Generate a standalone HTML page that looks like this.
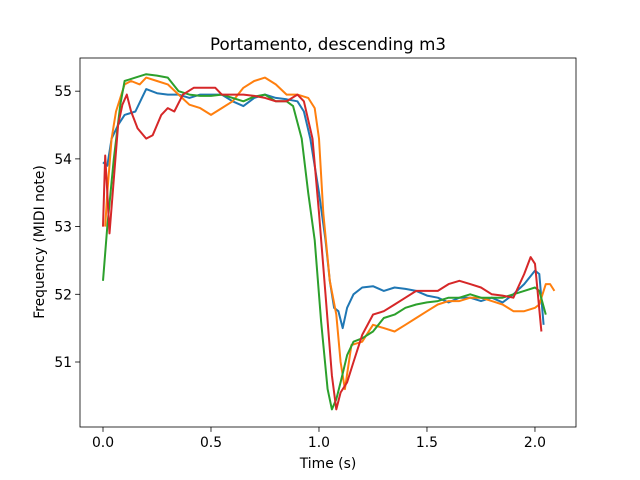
<!DOCTYPE html>
<html><head><meta charset="utf-8"><style>body{margin:0;background:#fff}svg{display:block;font-family:"DejaVu Sans","Liberation Sans",sans-serif}</style></head>
<body>
<svg id="chart" width="640" height="480">
<rect width="640" height="480" fill="#fff"/>
<text x="328" y="50" text-anchor="middle" font-size="16.7">Portamento, descending m3</text>
<g id="plot"></g>
<rect x="80" y="58" width="496" height="369" fill="none" stroke="#000" stroke-width="0.8"/>
<g id="xt"></g>
<g id="yt"></g>
<text x="328" y="468" text-anchor="middle" font-size="13.9">Time (s)</text>
<text transform="translate(44,242) rotate(-90)" text-anchor="middle" font-size="13.9">Frequency (MIDI note)</text>
</svg>
<script>
const xTicks=[0,0.5,1,1.5,2];
const xTickLabels=["0.0","0.5","1.0","1.5","2.0"];
const yTicks=[51,52,53,54,55];
const yTickLabels=["51","52","53","54","55"];
const blueT=[0,0.02,0.04,0.07,0.1,0.15,0.18,0.2,0.25,0.3,0.35,0.4,0.45,0.5,0.55,0.6,0.65,0.7,0.75,0.8,0.85,0.9,0.93,0.96,1.0,1.03,1.05,1.07,1.09,1.11,1.13,1.16,1.2,1.25,1.3,1.35,1.4,1.45,1.5,1.55,1.6,1.65,1.7,1.75,1.8,1.85,1.9,1.95,2.0,2.02,2.04];
const blueV=[53.95,53.9,54.3,54.5,54.65,54.7,54.9,55.03,54.97,54.95,54.95,54.9,54.95,54.95,54.95,54.85,54.78,54.9,54.95,54.9,54.88,54.85,54.7,54.3,53.5,52.8,52.2,51.8,51.75,51.5,51.8,52.0,52.1,52.12,52.05,52.1,52.08,52.05,51.98,51.95,51.88,51.95,51.95,51.9,51.95,51.88,52.0,52.15,52.35,52.3,51.55];
const orangeT=[0.01,0.02,0.04,0.06,0.08,0.1,0.13,0.17,0.2,0.25,0.3,0.35,0.4,0.45,0.5,0.55,0.6,0.65,0.7,0.75,0.8,0.85,0.9,0.95,0.98,1.0,1.02,1.05,1.08,1.1,1.12,1.15,1.2,1.25,1.3,1.35,1.4,1.45,1.5,1.55,1.6,1.65,1.7,1.75,1.8,1.85,1.9,1.95,2.0,2.02,2.05,2.07,2.09];
const orangeV=[53.0,53.5,54.3,54.7,54.9,55.1,55.15,55.1,55.2,55.15,55.1,54.95,54.8,54.75,54.65,54.75,54.85,55.05,55.15,55.2,55.1,54.95,54.95,54.9,54.75,54.3,53.2,52.2,51.7,51.0,50.6,51.25,51.3,51.55,51.5,51.45,51.55,51.65,51.75,51.85,51.9,51.9,51.95,51.95,51.9,51.85,51.75,51.75,51.8,51.85,52.15,52.15,52.05];
const greenT=[0,0.02,0.05,0.08,0.1,0.15,0.2,0.25,0.3,0.35,0.4,0.45,0.5,0.55,0.6,0.65,0.7,0.75,0.8,0.85,0.88,0.92,0.95,0.98,1.01,1.04,1.06,1.08,1.1,1.13,1.16,1.2,1.25,1.3,1.35,1.4,1.45,1.5,1.55,1.6,1.65,1.7,1.75,1.8,1.85,1.9,1.95,2.0,2.02,2.05];
const greenV=[52.2,53.0,54.0,54.8,55.15,55.2,55.25,55.23,55.2,55.0,54.95,54.93,54.93,54.95,54.9,54.85,54.92,54.95,54.85,54.85,54.78,54.3,53.5,52.8,51.6,50.6,50.3,50.45,50.7,51.1,51.3,51.35,51.45,51.65,51.7,51.8,51.85,51.88,51.9,51.95,51.95,52.0,51.95,51.95,51.95,52.0,52.05,52.1,52.05,51.7];
const redT=[0,0.01,0.02,0.03,0.05,0.07,0.09,0.11,0.13,0.16,0.2,0.23,0.27,0.3,0.33,0.37,0.42,0.47,0.52,0.55,0.6,0.65,0.7,0.75,0.8,0.85,0.9,0.93,0.97,1.0,1.03,1.06,1.08,1.1,1.13,1.16,1.2,1.25,1.3,1.35,1.4,1.45,1.5,1.55,1.6,1.65,1.7,1.75,1.8,1.85,1.9,1.95,1.98,2.0,2.03];
const redV=[53.0,54.05,53.5,52.9,53.7,54.5,54.8,54.95,54.7,54.45,54.3,54.35,54.65,54.75,54.7,54.95,55.05,55.05,55.05,54.95,54.95,54.95,54.93,54.9,54.85,54.85,54.95,54.85,54.3,53.2,52.0,50.8,50.3,50.55,50.7,51.0,51.4,51.7,51.75,51.85,51.95,52.05,52.05,52.05,52.15,52.2,52.15,52.1,52.0,51.98,51.95,52.3,52.55,52.45,51.45];
const xMin=-0.1065,xMax=2.19,yMin=50.04,yMax=55.49;
const L=80,R=576,T=58,B=427;
function sx(t){return L+(t-xMin)/(xMax-xMin)*(R-L);}
function sy(v){return B-(v-yMin)/(yMax-yMin)*(B-T);}
const NS="http://www.w3.org/2000/svg";
const plot=document.getElementById('plot');
const series=[["series-1-line",blueT,blueV,"#1f77b4"],["series-2-line",orangeT,orangeV,"#ff7f0e"],["series-3-line",greenT,greenV,"#2ca02c"],["series-4-line",redT,redV,"#d62728"]];
series.forEach(s=>{
  const p=document.createElementNS(NS,'polyline');
  p.setAttribute('points',s[1].map((t,i)=>sx(t).toFixed(1)+','+sy(s[2][i]).toFixed(1)).join(' '));
  p.setAttribute('fill','none');p.setAttribute('stroke',s[3]);p.setAttribute('stroke-width','2');
  p.setAttribute('stroke-linejoin','round');
  
  
  plot.appendChild(p);
});
const xt=document.getElementById('xt');
xTicks.forEach((t,i)=>{
  const x=sx(t);
  const l=document.createElementNS(NS,'line');
  l.setAttribute('x1',x);l.setAttribute('x2',x);l.setAttribute('y1',B);l.setAttribute('y2',B+4.9);l.setAttribute('stroke','#000');l.setAttribute('stroke-width','0.8');
  
  
  xt.appendChild(l);
  const tx=document.createElementNS(NS,'text');
  tx.setAttribute('x',x);tx.setAttribute('y',B+20);tx.setAttribute('text-anchor','middle');tx.setAttribute('font-size','13.9');
  tx.textContent=xTickLabels[i];
  
  
  xt.appendChild(tx);
});
const yt=document.getElementById('yt');
yTicks.forEach((v,i)=>{
  const y=sy(v);
  const l=document.createElementNS(NS,'line');
  l.setAttribute('x1',L-4.9);l.setAttribute('x2',L);l.setAttribute('y1',y);l.setAttribute('y2',y);l.setAttribute('stroke','#000');l.setAttribute('stroke-width','0.8');
  
  
  yt.appendChild(l);
  const tx=document.createElementNS(NS,'text');
  tx.setAttribute('x',L-8);tx.setAttribute('y',y+5);tx.setAttribute('text-anchor','end');tx.setAttribute('font-size','13.9');
  tx.textContent=yTickLabels[i];
  
  
  yt.appendChild(tx);
});
</script>
</body></html>
